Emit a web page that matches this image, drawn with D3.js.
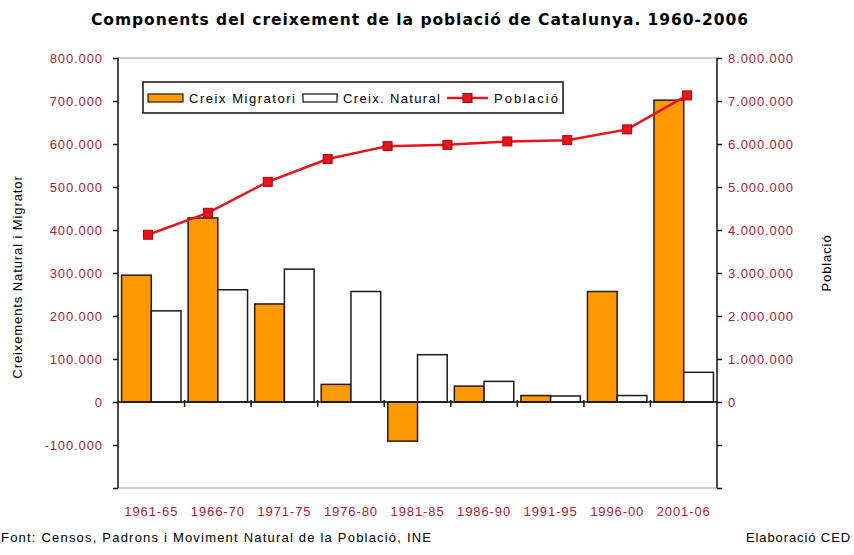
<!DOCTYPE html>
<html>
<head>
<meta charset="utf-8">
<script src="https://cdn.jsdelivr.net/npm/d3@7"></script>
<style>
    body { margin: 0; background: #fff; }
    svg { display: block; font-family: Arial, "Liberation Sans", sans-serif; }
</style>
</head>
<body>
<svg id="chart" width="854" height="555"></svg>
<script>
/*globals d3*/
var periods = ["1961-65", "1966-70", "1971-75", "1976-80", "1981-85",
               "1986-90", "1991-95", "1996-00", "2001-06"];
var creixMigratori = [295000, 428000, 228000, 41000, -91000, 37000, 15000, 257000, 702000];
var creixNatural = [212000, 261000, 309000, 257000, 110000, 48000, 14000, 15000, 69000];

// Population is plotted on its own category axis (one point per census).
var censusYears = ["1960", "1965", "1970", "1975", "1981",
                   "1986", "1991", "1996", "2001", "2006"];
var poblacio = [3890000, 4400000, 5120000, 5650000, 5950000,
                5980000, 6060000, 6090000, 6340000, 7130000];

var leftTicks = [-200000, -100000, 0, 100000, 200000, 300000, 400000,
                 500000, 600000, 700000, 800000];
var rightTicks = [-2000000, -1000000, 0, 1000000, 2000000, 3000000, 4000000,
                  5000000, 6000000, 7000000, 8000000];
var seriesNames = ["Creix Migratori", "Creix. Natural", "Població"];

(function () {
    "use strict";

    var left = 118, right = 717, top = 58, bottom = 488,
        tickColor = "#a8223a", orange = "#ff9900", red = "#e8141c";

    var svg = d3.select("#chart");

    var catFormat = d3.formatLocale({
        decimal: ",", thousands: ".", grouping: [3], currency: ["", "€"], minus: "-"
    }).format(",d");

    var x0 = d3.scaleBand().domain(periods).range([left, right]),
        x1 = d3.scaleBand().domain([0, 1]).range([0, x0.bandwidth()]).paddingOuter(0.12),
        xPop = d3.scalePoint().domain(censusYears).range([left, right]).padding(0.5),
        yL = d3.scaleLinear().domain([-200000, 800000]).range([bottom, top]),
        yR = d3.scaleLinear().domain([-2000000, 8000000]).range([bottom, top]);

    // Title
    svg.append("text")
        .attr("x", 91).attr("y", 25)
        .attr("textLength", 657).attr("lengthAdjust", "spacing")
        .style("font-family", "'DejaVu Sans', Verdana, sans-serif")
        .style("font-size", "15.5px").style("font-weight", "bold")
        .text("Components del creixement de la població de Catalunya. 1960-2006");

    // Plot frame (top and bottom gray lines)
    svg.append("line").attr("x1", left).attr("x2", right).attr("y1", top).attr("y2", top)
        .attr("stroke", "#9a9a9a");
    svg.append("line").attr("x1", left).attr("x2", right).attr("y1", bottom).attr("y2", bottom)
        .attr("stroke", "#9a9a9a");

    // Bars
    var groups = svg.append("g").selectAll("g")
        .data(periods)
        .enter().append("g")
        .attr("transform", function (d) { return "translate(" + x0(d) + ",0)"; });

    groups.append("rect")
        .attr("x", x1(0)).attr("width", x1.bandwidth())
        .attr("y", function (d, i) { return yL(Math.max(0, creixMigratori[i])); })
        .attr("height", function (d, i) { return Math.abs(yL(creixMigratori[i]) - yL(0)); })
        .attr("fill", orange).attr("stroke", "#2a1a10").attr("stroke-width", 1.5);

    groups.append("rect")
        .attr("x", x1(1)).attr("width", x1.bandwidth())
        .attr("y", function (d, i) { return yL(Math.max(0, creixNatural[i])); })
        .attr("height", function (d, i) { return Math.abs(yL(creixNatural[i]) - yL(0)); })
        .attr("fill", "#fff").attr("stroke", "#1a1a1a").attr("stroke-width", 1.5);

    // Category axis on the zero line, ticks at category boundaries
    var y0 = yL(0);
    svg.append("line").attr("x1", left).attr("x2", right).attr("y1", y0).attr("y2", y0)
        .attr("stroke", "#111").attr("stroke-width", 1.5);
    svg.append("g").selectAll("line")
        .data(periods.slice(1))
        .enter().append("line")
        .attr("x1", function (d) { return x0(d); })
        .attr("x2", function (d) { return x0(d); })
        .attr("y1", y0 - 2).attr("y2", y0 + 5)
        .attr("stroke", "#111").attr("stroke-width", 1.5);

    var xAxis = svg.append("g")
        .attr("transform", "translate(0," + 507 + ")")
        .call(d3.axisBottom(x0).tickSize(0).tickPadding(0));
    xAxis.select(".domain").remove();
    xAxis.selectAll("text")
        .attr("fill", tickColor)
        .style("font-size", "13px").style("font-family", "Arial, sans-serif")
        .style("letter-spacing", "0.9px");

    // Population line
    var line = d3.line()
        .x(function (d, i) { return xPop(censusYears[i]); })
        .y(function (d) { return yR(d); });

    svg.append("path")
        .datum(poblacio)
        .attr("d", line)
        .attr("fill", "none").attr("stroke", red).attr("stroke-width", 2.5);

    svg.append("g").selectAll("rect")
        .data(poblacio)
        .enter().append("rect")
        .attr("x", function (d, i) { return xPop(censusYears[i]) - 4.5; })
        .attr("y", function (d) { return yR(d) - 4.5; })
        .attr("width", 9).attr("height", 9)
        .attr("fill", red).attr("stroke", "#b00010").attr("stroke-width", 1);

    // Left axis
    var leftAxis = svg.append("g")
        .attr("transform", "translate(" + left + ",0)")
        .call(d3.axisLeft(yL).tickValues(leftTicks).tickSize(5).tickPadding(10)
            .tickFormat(function (d) { return d < -100000 ? "" : catFormat(d); }));
    leftAxis.select(".domain").attr("stroke", "#111").attr("stroke-width", 1.5)
        .attr("d", "M0," + top + "V" + bottom);

    // Right axis
    var rightAxis = svg.append("g")
        .attr("transform", "translate(" + right + ",0)")
        .call(d3.axisRight(yR).tickValues(rightTicks).tickSize(5).tickPadding(6)
            .tickFormat(function (d) { return d < 0 ? "" : catFormat(d); }));
    rightAxis.select(".domain").attr("stroke", "#111").attr("stroke-width", 1.5)
        .attr("d", "M0," + top + "V" + bottom);

    svg.selectAll(".tick line").attr("stroke", "#111").attr("stroke-width", 1.5);
    svg.selectAll(".tick text")
        .attr("fill", tickColor)
        .style("font-size", "13px").style("font-family", "Arial, sans-serif")
        .style("letter-spacing", "0.9px");

    // Axis titles
    svg.append("text")
        .attr("transform", "translate(22,277) rotate(-90)")
        .attr("text-anchor", "middle")
        .style("font-size", "13px").style("letter-spacing", "0.9px")
        .text("Creixements Natural i Migrator");

    svg.append("text")
        .attr("transform", "translate(831,263) rotate(-90)")
        .attr("text-anchor", "middle")
        .style("font-size", "13px").style("letter-spacing", "0.9px")
        .text("Població");

    // Legend
    var legend = svg.append("g");
    legend.append("rect")
        .attr("x", 143).attr("y", 82).attr("width", 420).attr("height", 31)
        .attr("fill", "#fff").attr("stroke", "#111").attr("stroke-width", 1.5);

    legend.append("rect")
        .attr("x", 148).attr("y", 94).attr("width", 35).attr("height", 8)
        .attr("fill", orange).attr("stroke", "#2a1a10").attr("stroke-width", 1.2);
    legend.append("rect")
        .attr("x", 303).attr("y", 94).attr("width", 34).attr("height", 8)
        .attr("fill", "#fff").attr("stroke", "#111").attr("stroke-width", 1.2);
    legend.append("line")
        .attr("x1", 447).attr("x2", 488).attr("y1", 98).attr("y2", 98)
        .attr("stroke", red).attr("stroke-width", 2.5);
    legend.append("rect")
        .attr("x", 463).attr("y", 93.5).attr("width", 9).attr("height", 9)
        .attr("fill", red).attr("stroke", "#b00010");

    legend.selectAll("text.lbl")
        .data(seriesNames)
        .enter().append("text")
        .attr("class", "lbl")
        .attr("x", function (d, i) { return [189, 343, 494][i]; })
        .attr("y", 103)
        .attr("textLength", function (d, i) { return [106, 97, 64][i]; })
        .attr("lengthAdjust", "spacing")
        .style("font-size", "13px")
        .text(function (d) { return d; });

    // Footer
    svg.append("text")
        .attr("x", 1).attr("y", 542)
        .attr("textLength", 430).attr("lengthAdjust", "spacing")
        .style("font-size", "13px")
        .text("Font: Censos, Padrons i Moviment Natural de la Població, INE");
    svg.append("text")
        .attr("x", 851).attr("y", 542).attr("text-anchor", "end")
        .style("font-size", "13px").style("letter-spacing", "0.9px")
        .text("Elaboració CED");
})();
</script>
</body>
</html>
